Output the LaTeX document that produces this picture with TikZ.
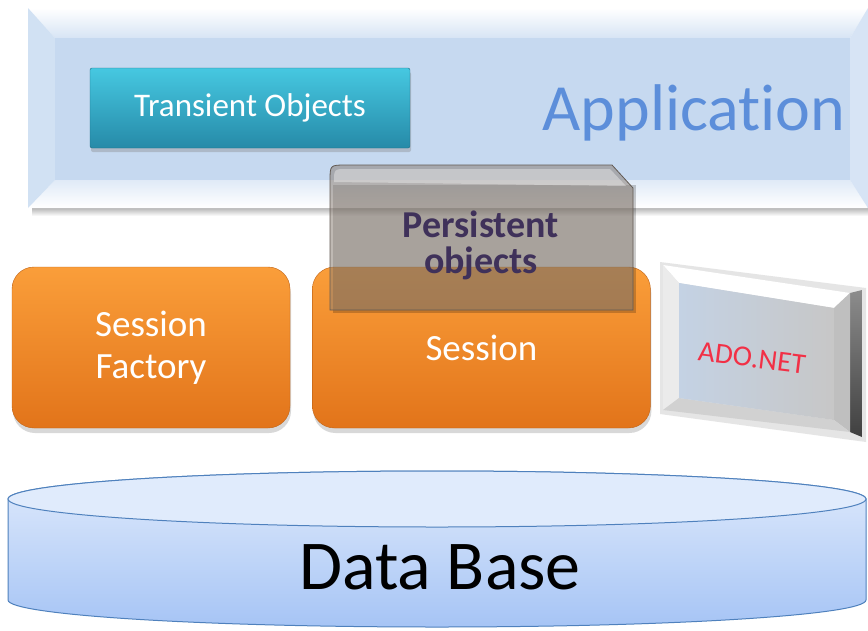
\documentclass[tikz,border=0pt]{standalone}
\usepackage{fontspec}
\setmainfont{Carlito}[Ligatures=NoCommon]
\usetikzlibrary{shapes.geometric, positioning, shadows}
\definecolor{appface}{RGB}{198,217,240}
\definecolor{apptext}{RGB}{92,142,218}
\definecolor{tealtop}{RGB}{70,200,225}
\definecolor{tealbot}{RGB}{38,138,168}
\definecolor{orangetop}{RGB}{250,158,58}
\definecolor{orangebot}{RGB}{226,116,26}
\definecolor{persgrey}{RGB}{140,128,118}
\definecolor{perstext}{RGB}{63,49,90}
\definecolor{dbtop}{RGB}{224,235,252}
\definecolor{dbbot}{RGB}{166,196,245}
\definecolor{dbedge}{RGB}{79,129,189}
\definecolor{adored}{RGB}{242,48,70}
\definecolor{adoface}{RGB}{196,210,228}

\tikzset{
  sessionbox/.style={rounded corners=22pt, top color=orangetop, bottom color=orangebot,
    draw=orangebot!85!black, minimum height=161pt, text=white, align=center,
    font=\fontsize{37}{42}\selectfont,
    drop shadow={opacity=0.3, shadow xshift=1pt, shadow yshift=-5pt}},
  transbox/.style={rounded corners=2pt, top color=tealtop, bottom color=tealbot,
    draw=tealbot!80!black, minimum width=320pt, minimum height=80pt, text=white,
    font=\fontsize{33}{36}\selectfont,
    drop shadow={opacity=0.35, shadow xshift=1pt, shadow yshift=-4pt}},
  bigtext/.style={inner sep=0pt}
}

\begin{document}
\begin{tikzpicture}[x=1pt, y=-1pt]
    \fill[white] (0,0) rectangle (868,630);
    \useasboundingbox (0,0) rectangle (868,630);

    % Application panel
    \shade[top color=black!35, bottom color=white] (32,206) rectangle (868,216);
    \shade[top color=white, bottom color=appface!70] (28,8) -- (868,8) -- (850,38) -- (55,38) -- cycle;
    \shade[top color=appface!55, bottom color=white] (28,208) -- (868,208) -- (850,180) -- (55,180) -- cycle;
    \fill[appface!80] (28,8) -- (55,38) -- (55,180) -- (28,208) -- cycle;
    \fill[appface!70] (868,8) -- (850,38) -- (850,180) -- (868,208) -- cycle;
    \fill[appface] (55,38) rectangle (850,180);
    % kern keeps t and i apart (no ligature)
    \node[bigtext, text=apptext, font=\fontsize{66}{70}\selectfont] (app) at (694,113) {Applicat\kern0pt ion};

    \node[transbox] (trans) at (250,108) {Transient Objects};

    % Session layer
    \node[sessionbox, minimum width=278pt] (factory) at (151,347.5) {Session\\Factory};
    \node[sessionbox, minimum width=338pt, right=22pt of factory] (session) {Session};

    % Persistent objects (half over the application, half over the session)
    \fill[black, opacity=0.2] (333,313) -- (333,185) -- (636,185) -- (636,313) -- cycle;
    \filldraw[fill=persgrey, fill opacity=0.55, draw=persgrey!70!black, line width=0.8pt]
      (330,310) -- (330,181) .. controls (330,165) .. (346,165) -- (612,165) -- (633,188) -- (633,310) -- cycle;
    \fill[white, opacity=0.35]
      (334,182) .. controls (334,169) .. (347,169) -- (610,169) -- (626,186) -- cycle;
    \node[bigtext, text=perstext, align=center, font=\bfseries\fontsize{38}{36}\selectfont] (pers) at (481,245) {Persistent\\objects};

    % ADO.NET slab
    \fill[black!10] (660,262) -- (866,288) -- (866,442) -- (660,414) -- cycle;
    \shade[top color=black!45, bottom color=black!75] (850,293) -- (862,290) -- (862,437) -- (850,432) -- cycle;
    \fill[white] (663,265) -- (850,293) -- (834,308) -- (679,283) -- cycle;
    \fill[black!8] (663,265) -- (679,283) -- (679,398) -- (663,410) -- cycle;
    \fill[black!25] (850,293) -- (834,308) -- (834,420) -- (850,432) -- cycle;
    \fill[black!18] (663,410) -- (679,398) -- (834,420) -- (850,432) -- cycle;
    \shade[left color=adoface, right color=black!22] (679,283) -- (834,308) -- (834,420) -- (679,398) -- cycle;
    \node[bigtext, text=adored, rotate=-7, font=\fontsize{29}{30}\selectfont] (ado) at (752,358) {ADO.NET};

    % Data Base cylinder
    \shade[top color=dbtop, bottom color=dbbot, draw=dbedge, line width=1pt]
      (8,499) -- (8,600) arc[start angle=180, end angle=0, x radius=429, y radius=27]
      -- (866,499) arc[start angle=0, end angle=-180, x radius=429, y radius=28] -- cycle;
    \draw[dbedge, line width=1pt, fill=dbtop] (437,499) ellipse [x radius=429, y radius=28];
    \node[bigtext, font=\fontsize{70}{74}\selectfont] (db) at (440,567) {Data Base};
\end{tikzpicture}
\end{document}
